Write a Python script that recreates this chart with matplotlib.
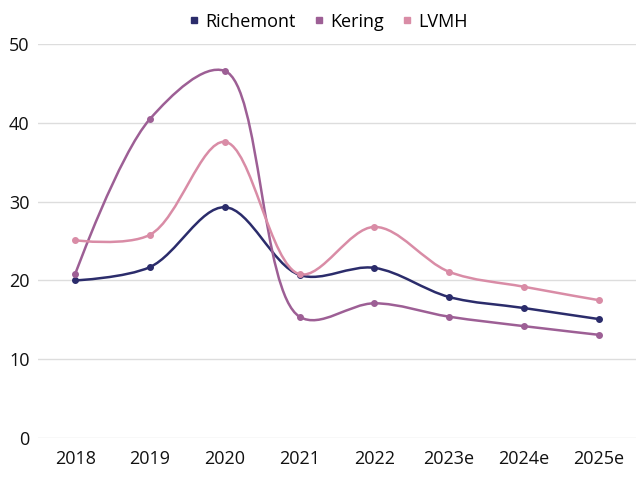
import matplotlib

matplotlib.use("Agg")
import matplotlib.pyplot as plt
import numpy as np
from matplotlib.lines import Line2D
from matplotlib.patches import PathPatch
from matplotlib.path import Path

plt.rcParams["font.family"] = ["Open Sans", "DejaVu Sans"]

years = ["2018", "2019", "2020", "2021", "2022", "2023e", "2024e", "2025e"]
richemont = [20.0, 21.7, 29.3, 20.7, 21.6, 17.9, 16.5, 15.1]
kering = [20.8, 40.5, 46.6, 15.4, 17.1, 15.4, 14.2, 13.1]
lvmh = [25.1, 25.8, 37.6, 20.8, 26.8, 21.1, 19.2, 17.5]

series = [
    ("Richemont", richemont, "#2b2c6b"),
    ("Kering", kering, "#9d5f95"),
    ("LVMH", lvmh, "#d98ca6"),
]

# approximate pixel scales so the smoothing is done in screen space
XS, YS = 74.7, 7.88


def catmull_rom_path(xs, ys, alpha=0.5):
    """Centripetal Catmull-Rom as cubic beziers (same as d3.curveCatmullRom)."""
    p = np.column_stack([np.asarray(xs, float) * XS, np.asarray(ys, float) * YS])
    n = len(p)
    verts = [tuple(p[0])]
    codes = [Path.MOVETO]
    for i in range(n - 1):
        p0 = p[i - 1] if i > 0 else p[i]
        p1, p2 = p[i], p[i + 1]
        p3 = p[i + 2] if i + 2 < n else p[i + 1]
        l01 = np.hypot(*(p1 - p0))
        l12 = np.hypot(*(p2 - p1))
        l23 = np.hypot(*(p3 - p2))
        l01a, l01_2a = l01 ** alpha, l01 ** (2 * alpha)
        l12a, l12_2a = l12 ** alpha, l12 ** (2 * alpha)
        l23a, l23_2a = l23 ** alpha, l23 ** (2 * alpha)
        c1 = p1.copy()
        c2 = p2.copy()
        if l01a > 1e-12:
            a = 2 * l01_2a + 3 * l01a * l12a + l12_2a
            nn = 3 * l01a * (l01a + l12a)
            c1 = (p1 * a - p0 * l12_2a + p2 * l01_2a) / nn
        if l23a > 1e-12:
            b = 2 * l23_2a + 3 * l23a * l12a + l12_2a
            m = 3 * l23a * (l23a + l12a)
            c2 = (p2 * b + p1 * l23_2a - p3 * l12_2a) / m
        verts += [tuple(c1), tuple(c2), tuple(p2)]
        codes += [Path.CURVE4] * 3
    verts = [(vx / XS, vy / YS) for vx, vy in verts]
    return Path(verts, codes)


fig = plt.figure(figsize=(6.4, 4.8), dpi=100)
ax = fig.add_axes([0.059, 0.0875, 0.935, 0.8205])

x = np.arange(len(years))
handles = []
for name, vals, color in series:
    ax.add_patch(PathPatch(catmull_rom_path(x, vals), facecolor="none", edgecolor=color,
                           linewidth=1.8, zorder=3, capstyle="round"))
    ax.plot(x, vals, "o", color=color, markersize=4, zorder=4)
    handles.append(Line2D([], [], marker="s", linestyle="none", color=color,
                          markersize=5, label=name))

ax.set_xlim(-0.5, len(years) - 0.5)
ax.set_ylim(0, 50)
ax.set_yticks(range(0, 51, 10))
ax.set_xticks(x)
ax.set_xticklabels(years)
ax.tick_params(axis="both", length=0, labelsize=13, colors="#111111")
ax.tick_params(axis="y", pad=6)
ax.tick_params(axis="x", pad=9)
ax.grid(axis="y", color="#dddddd", linewidth=1)
ax.set_axisbelow(True)
for s in ax.spines.values():
    s.set_visible(False)

fig.legend(handles=handles, loc="center", bbox_to_anchor=(0.51, 0.955), ncol=3,
           frameon=False, fontsize=13, handletextpad=0.1, columnspacing=0.8,
           handlelength=1.0)

fig.savefig("out.png", dpi=100)
